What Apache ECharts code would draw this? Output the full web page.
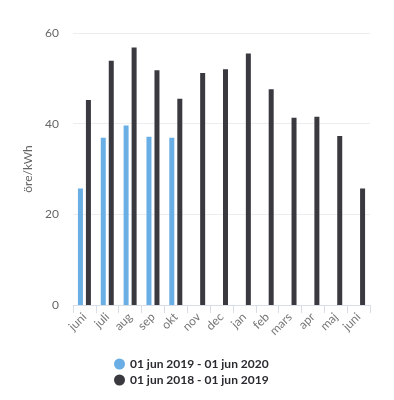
<!DOCTYPE html>
<html><head><meta charset="utf-8">
<script src="https://cdn.jsdelivr.net/npm/echarts@6/dist/echarts.min.js"></script>
<style>html,body{margin:0;padding:0;background:#fff}#c{width:394px;height:400px}</style>
</head><body><div id="c"></div>
<script>
const categories = ['juni','juli','aug','sep','okt','nov','dec','jan','feb','mars','apr','maj','juni'];
const series2019 = [25.7, 36.9, 39.6, 37.1, 36.9, null, null, null, null, null, null, null, null];
const series2018 = [45.2, 53.9, 56.8, 51.8, 45.5, 51.2, 52.0, 55.5, 47.6, 41.3, 41.5, 37.3, 25.7];
const name2019 = '01 jun 2019 - 01 jun 2020';
const name2018 = '01 jun 2018 - 01 jun 2019';
const yTicks = [0, 20, 40, 60];

const chart = echarts.init(document.getElementById('c'));
const font = 'Lato, "Open Sans", sans-serif';
chart.setOption({
  animation: false,
  textStyle: {fontFamily: font},
  grid: {left: 73, right: 24, top: 33, bottom: 95},
  legend: {
    orient: 'vertical', left: 109, top: 353, itemGap: 4,
    icon: 'circle', itemWidth: 11, itemHeight: 11,
    textStyle: {fontFamily: font, fontSize: 12, fontWeight: 'bold', color: '#2a2a30'},
    data: [name2019, name2018]
  },
  xAxis: {
    type: 'category', data: categories,
    axisLine: {lineStyle: {color: '#d8dde6'}},
    axisTick: {show: true, length: 8, lineStyle: {color: '#d8dde6'}},
    axisLabel: {rotate: 45, color: '#777', fontSize: 12, margin: 10, interval: 0}
  },
  yAxis: {
    type: 'value', min: yTicks[0], max: yTicks[yTicks.length - 1], interval: 20,
    name: 'öre/kWh', nameLocation: 'middle', nameGap: 34,
    nameTextStyle: {color: '#666', fontSize: 12},
    axisLine: {show: false}, axisTick: {show: false},
    axisLabel: {color: '#666', fontSize: 12, margin: 14},
    splitLine: {lineStyle: {color: '#ebedf0'}}
  },
  series: [
    {name: name2019, type: 'bar', data: series2019, barWidth: 5, barGap: '60%', itemStyle: {color: '#6aaee6'}},
    {name: name2018, type: 'bar', data: series2018, barWidth: 5, barGap: '60%', itemStyle: {color: '#3a393f'}}
  ]
});
</script></body></html>
